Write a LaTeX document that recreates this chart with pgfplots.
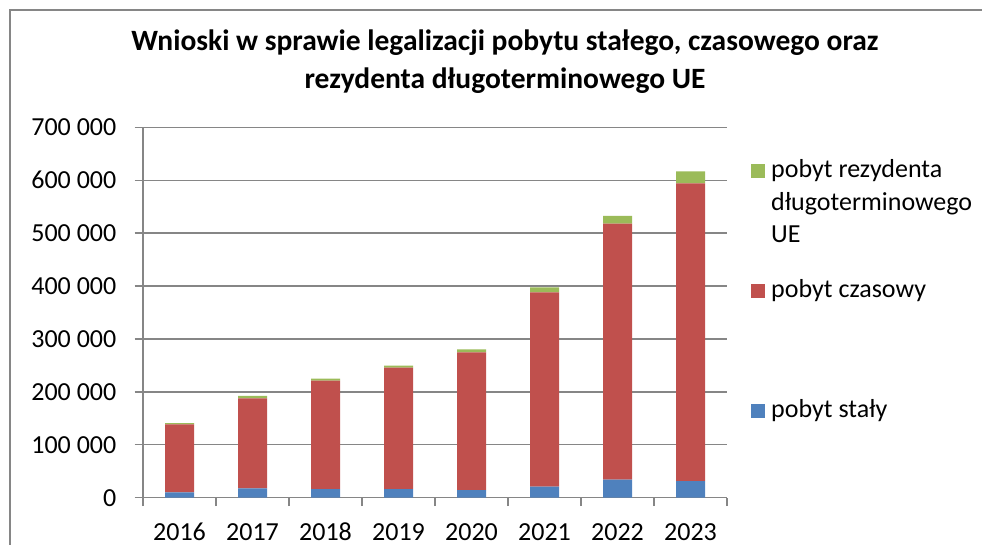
\documentclass[border=0pt]{standalone}
\usepackage{fontspec}
\setmainfont{Carlito}
\usepackage{pgfplots}
\pgfplotsset{compat=1.18}
\definecolor{cStaly}{HTML}{4F81BD}
\definecolor{cCzas}{HTML}{C0504D}
\definecolor{cRez}{HTML}{9BBB59}
\definecolor{cGrid}{HTML}{868686}

\newcommand{\lbl}{\fontsize{26}{32.5}\selectfont}
\newcommand{\legtext}[1]{\parbox[t]{215pt}{\raggedright #1}}

\begin{document}
\begin{tikzpicture}[x=1pt,y=1pt]
\useasboundingbox (0,0) rectangle (982,545);
% chart-area frame (only top and left are inside the picture)
\draw[cGrid, line width=1.3pt] (10,0) -- (10,535) -- (982,535);

\node[anchor=base, font=\fontsize{29.5}{34}\selectfont\bfseries] at (505,494)
  {Wnioski w sprawie legalizacji pobytu stałego, czasowego oraz};
\node[anchor=base, font=\fontsize{29.5}{34}\selectfont\bfseries] at (505,456)
  {rezydenta długoterminowego UE};

\begin{axis}[
  at={(143pt,47.3pt)}, anchor=south west,
  scale only axis, width=584pt, height=370.4pt,
  ybar stacked, bar width=29pt,
  xmin=-0.5, xmax=7.5, ymin=0, ymax=700000,
  axis lines*=left, axis line style={cGrid, line width=1.4pt, -},
  tick style={cGrid, line width=1.4pt},
  tick align=outside, major tick length=8.5pt,
  xtick={-0.5,0.5,...,7.5}, xticklabels={},
  extra x ticks={0,1,...,7},
  extra x tick labels={2016,2017,2018,2019,2020,2021,2022,2023},
  extra x tick style={major tick length=0pt, grid=none,
    xticklabel style={anchor=base, inner sep=0pt, yshift=-42.5pt}},
  ytick={0,100000,...,700000},
  ymajorgrids, grid style={cGrid, line width=1.4pt},
  scaled y ticks=false,
  yticklabel style={anchor=east, inner sep=0pt, xshift=-18pt},
  /pgf/number format/.cd, assume math mode=true, 1000 sep={\ }, fixed,
  /pgfplots/.cd,
  ticklabel style={font=\lbl},
  reverse legend,
  legend style={at={(rel axis cs:1.041,0.9135)}, anchor=north west,
    draw=none, fill=none, inner sep=0pt, row sep=100.5pt, column sep=6pt,
    font=\lbl, nodes={inner sep=0pt}, cells={anchor=base west}},
  legend image code/.code={\fill[#1] (0pt,-0.5pt) rectangle (14pt,13.5pt);},
]
\addplot+[fill=cStaly, draw=none] coordinates {(0,10000) (1,17600) (2,16400) (3,16400) (4,14500) (5,20800) (6,34000) (7,31500)};
\addlegendentry{\legtext{pobyt stały}}
\addplot+[fill=cCzas, draw=none] coordinates {(0,128600) (1,170200) (2,204800) (3,229300) (4,260200) (5,367400) (6,484000) (7,562700)};
\addlegendentry{\legtext{pobyt czasowy}}
\addplot+[fill=cRez, draw=none] coordinates {(0,2500) (1,4400) (2,3800) (3,3800) (4,5700) (5,9400) (6,14400) (7,22700)};
\addlegendentry{\legtext{pobyt rezydenta\\długoterminowego\\UE}}
\end{axis}
\end{tikzpicture}
\end{document}
